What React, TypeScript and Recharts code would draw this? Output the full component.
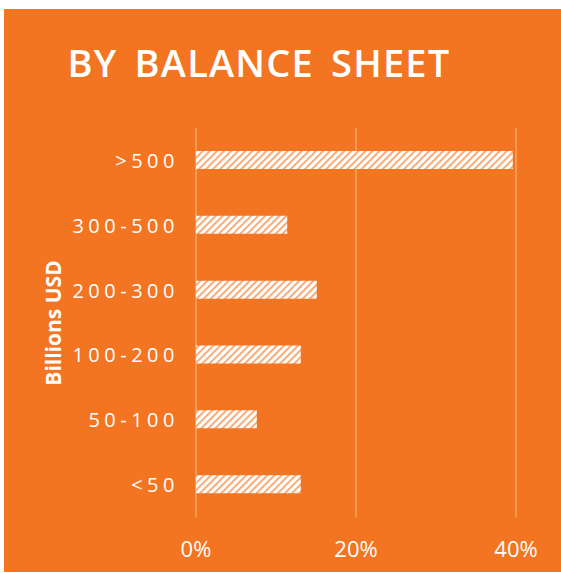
import React from "react";
import { BarChart, Bar, XAxis, YAxis, CartesianGrid } from "recharts";

const categories = [">500", "300-500", "200-300", "100-200", "50-100", "<50"];
const shares = [39.6, 11.4, 15.1, 13.1, 7.6, 13.1];
const xTicks = [0, 20, 40];

const data = categories.map((c, i) => ({ cat: c, value: shares[i] }));

const ORANGE = "#F37421";
const GRID = "#F9A565";
const FONT = "'Open Sans', sans-serif";

const YTick = (props: any) => {
  const { x, y, payload } = props;
  return (
    <text
      x={x}
      y={y}
      textAnchor="end"
      dominantBaseline="central"
      fill="#fff"
      fontFamily={FONT}
      fontSize={20}
      letterSpacing={4.5}
    >
      {payload.value}
    </text>
  );
};

const XTick = (props: any) => {
  const { x, y, payload } = props;
  return (
    <text
      x={x}
      y={y}
      textAnchor="middle"
      dominantBaseline="central"
      fill="#fff"
      fontFamily={FONT}
      fontSize={22}
    >
      {payload.value + "%"}
    </text>
  );
};

export default function App() {
  return (
    <div style={{ position: "absolute", left: 0, top: 0, width: 561, height: 573 }}>
      <svg width={0} height={0} style={{ position: "absolute" }}>
        <defs>
          <pattern
            id="hatch"
            patternUnits="userSpaceOnUse"
            width={5}
            height={5}
            patternTransform="rotate(45)"
          >
            <rect x={0} y={0} width={5} height={5} fill="#ffffff" />
            <rect x={0} y={0} width={2} height={5} fill={ORANGE} fillOpacity={0.6} />
          </pattern>
        </defs>
      </svg>
      <div
        style={{
          position: "absolute",
          left: 4,
          top: 9,
          width: 557,
          height: 563,
          background: ORANGE,
        }}
      >
        <BarChart
          width={557}
          height={563}
          data={data}
          layout="vertical"
          margin={{ top: 119, right: 45, bottom: 0, left: 0 }}
          barCategoryGap={0}
        >
          <CartesianGrid horizontal={false} vertical={true} stroke={GRID} strokeWidth={1.5} />
          <XAxis
            type="number"
            domain={[0, 40]}
            ticks={xTicks}
            axisLine={false}
            tickLine={false}
            tickSize={0}
            tickMargin={31}
            height={55}
            tick={<XTick />}
          />
          <YAxis
            type="category"
            dataKey="cat"
            width={192}
            axisLine={false}
            tickLine={false}
            tickSize={0}
            tickMargin={17}
            tick={<YTick />}
          />
          <Bar dataKey="value" fill="url(#hatch)" barSize={18} isAnimationActive={false} />
        </BarChart>
      </div>
      <svg
        width={561}
        height={573}
        style={{ position: "absolute", left: 0, top: 0, pointerEvents: "none" }}
      >
        <text
          x={259}
          y={77}
          textAnchor="middle"
          fill="#fff"
          fontFamily={FONT}
          fontWeight={600}
          fontSize={38}
          letterSpacing={1.2}
          wordSpacing={6}
        >
          BY BALANCE SHEET
        </text>
        <text
          x={53}
          y={323}
          textAnchor="middle"
          dominantBaseline="central"
          fill="#fff"
          fontFamily={FONT}
          fontWeight={700}
          fontSize={21}
          transform="rotate(-90, 53, 323)"
        >
          Billions USD
        </text>
      </svg>
    </div>
  );
}
